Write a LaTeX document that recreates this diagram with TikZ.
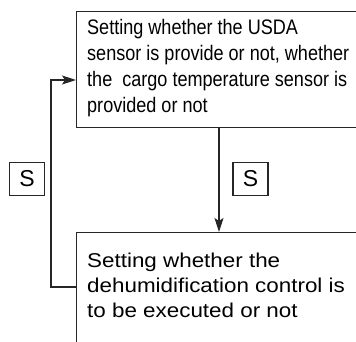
\documentclass[tikz,border=0pt]{standalone}
\usepackage{fontspec}
\setmainfont{Liberation Sans}
\newfontfamily\topfont[FakeStretch=0.86]{Liberation Sans}
\newfontfamily\botfont[FakeStretch=1.12]{Liberation Sans}
\usetikzlibrary{arrows.meta}
\begin{document}
\begin{tikzpicture}[x=1pt,y=-1pt,
  box/.style={draw=black!85,line width=1.3pt,rectangle,inner sep=0pt,anchor=north west},
  sbox/.style={draw=black!85,line width=1.1pt,rectangle,inner sep=0pt,minimum width=35pt,minimum height=33pt,font=\fontsize{23}{23}\selectfont},
  txt/.style={inner sep=0pt,anchor=north west,align=left,text=black},
  conn/.style={draw=black!85,line width=1.2pt},
  arr/.style={conn,-{Stealth[length=14pt,width=9pt,inset=3pt]}}]
\useasboundingbox (0,0) rectangle (356,342);
\clip (0,0) rectangle (356,342);
\node[box,minimum width=300pt,minimum height=116pt] (topbox) at (76,11) {};
\node[box,minimum width=300pt,minimum height=140pt] (botbox) at (76,232) {};
\node[txt,font=\topfont\fontsize{21}{26}\selectfont] (toptext) at (87,18.8)
  {Setting whether the USDA\\sensor is provide or not, whether\\the\ \ cargo temperature sensor is\\provided or not};
\node[txt,font=\botfont\fontsize{20}{25}\selectfont] (bottext) at (87,252.5)
  {Setting whether the\\dehumidification control is\\to be executed or not};
\node[sbox] (s1) at (27,179) {S};
\node[sbox] (s2) at (250.5,179) {S};
\draw[arr] ([xshift=143pt]topbox.south west) -- ([xshift=143pt]botbox.north west);
\draw[arr] ([yshift=-55pt]botbox.north west) -- ++(-25,0) |- ([yshift=-69pt]topbox.north west);
\end{tikzpicture}
\end{document}
